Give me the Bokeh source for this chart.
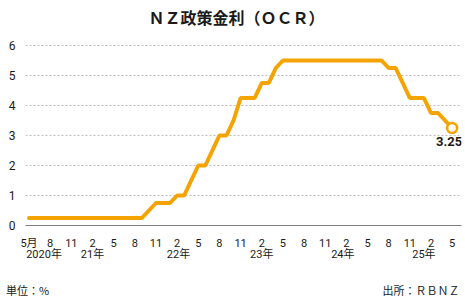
from bokeh.plotting import figure
from bokeh.models import Range1d, FixedTicker, Label, LinearAxis
from bokeh.embed import file_html
from bokeh.resources import INLINE

# ---- data (month-end OCR, May 2020 .. May 2025) ----
ocr = [
    # 2020: May..Dec
    0.25, 0.25, 0.25, 0.25, 0.25, 0.25, 0.25, 0.25,
    # 2021: Jan..Dec
    0.25, 0.25, 0.25, 0.25, 0.25, 0.25, 0.25, 0.25, 0.25, 0.5, 0.75, 0.75,
    # 2022: Jan..Dec
    0.75, 1.0, 1.0, 1.5, 2.0, 2.0, 2.5, 3.0, 3.0, 3.5, 4.25, 4.25,
    # 2023: Jan..Dec
    4.25, 4.75, 4.75, 5.25, 5.5, 5.5, 5.5, 5.5, 5.5, 5.5, 5.5, 5.5,
    # 2024: Jan..Dec
    5.5, 5.5, 5.5, 5.5, 5.5, 5.5, 5.5, 5.25, 5.25, 4.75, 4.25, 4.25,
    # 2025: Jan..May
    4.25, 3.75, 3.75, 3.5, 3.25,
]
months = list(range(len(ocr)))  # month index, 0 = May 2020

tick_months = [0, 3, 6, 9, 12, 15, 18, 21, 24, 27, 30, 33, 36, 39, 42, 45, 48, 51, 54, 57, 60]
tick_labels = ["5月", "8", "11", "2", "5", "8", "11", "2", "5", "8", "11",
               "2", "5", "8", "11", "2", "5", "8", "11", "2", "5"]
year_months = [2.13, 9, 21.2, 33, 44.5, 56]
year_labels = ["2020年", "21年", "22年", "23年", "24年", "25年"]
y_ticks = [0, 1, 2, 3, 4, 5, 6]
grid_ticks = [1, 2, 3, 4, 5, 6]

title_text = "ＮＺ政策金利（ＯＣＲ）"
footer_months = [-0.2, 55.6]
footer_labels = ["単位：%", "出所：ＲＢＮＺ"]
last_label = "3.25"

ORANGE = "#F5A300"
TEXT = "#1a1a1a"
NUM_FONT = "Roboto, Noto Sans CJK JP"
JP_FONT = "Noto Sans CJK JP"

p = figure(width=465, height=300, output_backend="svg", toolbar_location=None,
           x_range=Range1d(-0.5, 61.33), y_range=Range1d(0, 6.5),
           min_border_left=25, min_border_right=4, min_border_top=30,
           min_border_bottom=75)
p.outline_line_color = None
p.background_fill_color = "white"
p.border_fill_color = "white"

# title
p.title.text = title_text
p.title.align = "left"
p.title.offset = 123
p.title.standoff = 0
p.title.vertical_align = "top"
p.title.text_font = JP_FONT
p.title.text_font_size = "16px"
p.title.text_font_style = "bold"
p.title.text_color = TEXT

# grid
p.xgrid.visible = False
p.ygrid.ticker = FixedTicker(ticks=grid_ticks)
p.ygrid.grid_line_color = "#bdbdbd"
p.ygrid.grid_line_dash = "2 2"
p.ygrid.grid_line_width = 1

# y axis
ya = p.yaxis[0]
ya.ticker = FixedTicker(ticks=y_ticks)
ya.axis_line_color = None
ya.major_tick_line_color = None
ya.minor_tick_line_color = None
ya.major_label_standoff = 4
ya.major_label_text_font = NUM_FONT
ya.major_label_text_font_size = "12px"
ya.major_label_text_color = TEXT

# x axis (months)
xa = p.xaxis[0]
xa.ticker = FixedTicker(ticks=tick_months)
xa.major_label_overrides = {m: t for m, t in zip(tick_months, tick_labels)}
xa.axis_line_color = "#808080"
xa.axis_line_width = 1
xa.major_tick_line_color = None
xa.minor_tick_line_color = None
xa.major_label_standoff = 5
xa.major_label_text_font = NUM_FONT
xa.major_label_text_font_size = "11px"
xa.major_label_text_color = TEXT

# x axis (years)
year_axis = LinearAxis(ticker=FixedTicker(ticks=year_months),
                       major_label_overrides={m: t for m, t in zip(year_months, year_labels)},
                       axis_line_color=None, major_tick_line_color=None,
                       minor_tick_line_color=None, major_label_standoff=-11,
                       major_label_text_font=NUM_FONT, major_label_text_font_size="11px",
                       major_label_text_color=TEXT)
p.add_layout(year_axis, "below")

# footer (unit / source)
footer_axis = LinearAxis(ticker=FixedTicker(ticks=footer_months),
                         major_label_overrides={m: t for m, t in zip(footer_months, footer_labels)},
                         axis_line_color=None, major_tick_line_color=None,
                         minor_tick_line_color=None, major_label_standoff=12,
                         major_label_text_font=JP_FONT, major_label_text_font_size="11px",
                         major_label_text_color=TEXT)
p.add_layout(footer_axis, "below")

# line
p.line(months, ocr, line_color=ORANGE, line_width=4, line_cap="round")
p.scatter([months[-1]], [ocr[-1]], size=10, fill_color="white",
          line_color=ORANGE, line_width=2.5)

p.add_layout(Label(x=months[-1], y=ocr[-1], text=last_label, x_offset=-3, y_offset=-9,
                   text_align="center", text_baseline="top",
                   text_font=NUM_FONT, text_font_size="13px", text_font_style="bold",
                   text_color=TEXT))

open("out.html", "w").write(file_html(p, INLINE))
